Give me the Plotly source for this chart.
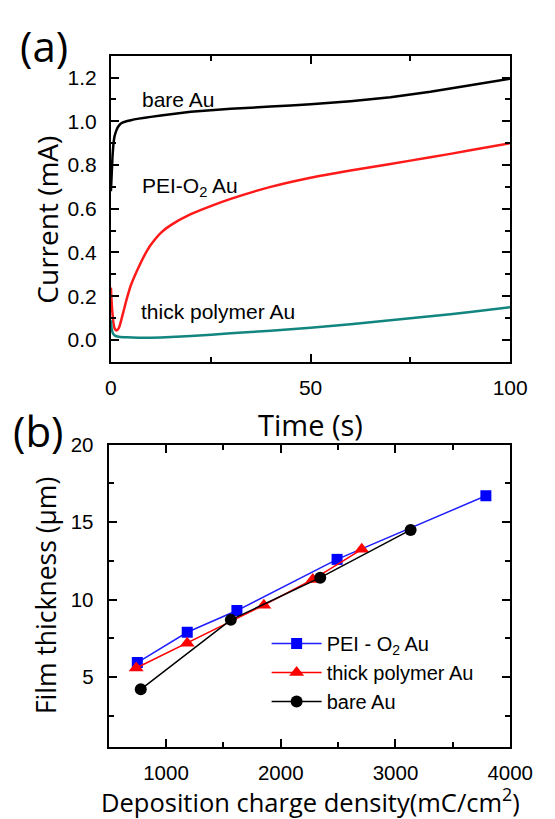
import plotly.graph_objects as go

# ---------------- Panel (a) data ----------------
t_bare = [0, 0.2, 0.4, 0.6, 0.9, 1.3, 1.8, 2.5, 3.5, 5, 7, 10, 15, 20, 30, 40, 50, 60, 70, 80, 90, 100]
i_bare = [0.68, 0.76, 0.84, 0.89, 0.93, 0.955, 0.975, 0.99, 0.998, 1.005, 1.012, 1.02, 1.032, 1.043,
          1.057, 1.067, 1.078, 1.092, 1.11, 1.135, 1.165, 1.195]

t_pei = [0, 0.3, 0.7, 1.0, 1.4, 2.0, 3.0, 4.0, 5.0, 6.0, 7.0, 8.5, 10, 12.5, 15, 20, 25, 30, 40, 50,
         60, 70, 80, 90, 100]
i_pei = [0.24, 0.14, 0.07, 0.05, 0.043, 0.055, 0.12, 0.19, 0.25, 0.295, 0.335, 0.39, 0.435, 0.49,
         0.525, 0.575, 0.612, 0.645, 0.70, 0.742, 0.775, 0.805, 0.835, 0.867, 0.90]

t_thick = [0, 0.2, 0.5, 1, 2, 4, 7, 10, 15, 20, 30, 40, 50, 60, 70, 80, 90, 100]
i_thick = [0.09, 0.05, 0.03, 0.02, 0.015, 0.012, 0.01, 0.01, 0.013, 0.018, 0.03, 0.042, 0.056,
           0.072, 0.09, 0.108, 0.128, 0.15]

# ---------------- Panel (b) data ----------------
q_pei = [750, 1185, 1618, 2491, 3788]
d_pei = [5.95, 7.9, 9.3, 12.6, 16.7]

q_thick = [740, 1185, 1853, 2279, 2706]
d_thick = [5.6, 7.2, 9.65, 11.3, 13.25]

q_bare = [780, 1565, 2344, 3132]
d_bare = [4.22, 8.7, 11.42, 14.5]

W, H = 555, 819
TICKFONT = "Liberation Sans, Arial, sans-serif"
TITLEFONT = "Open Sans, sans-serif"

fig = go.Figure()

# panel (a) curves
fig.add_trace(go.Scatter(x=t_bare, y=i_bare, mode="lines", line=dict(color="black", width=2.5, shape="spline", smoothing=0.3),
                         xaxis="x", yaxis="y", showlegend=False))
fig.add_trace(go.Scatter(x=t_pei, y=i_pei, mode="lines", line=dict(color="#ff1a1a", width=2.5, shape="spline", smoothing=0.6),
                         xaxis="x", yaxis="y", showlegend=False))
fig.add_trace(go.Scatter(x=t_thick, y=i_thick, mode="lines", line=dict(color="#12857f", width=2.5, shape="spline", smoothing=0.6),
                         xaxis="x", yaxis="y", showlegend=False))

# panel (b) series
fig.add_trace(go.Scatter(x=q_pei, y=d_pei, mode="lines+markers", name="PEI - O<sub>2</sub> Au",
                         line=dict(color="#1f1fff", width=1.5),
                         marker=dict(symbol="square", size=11, color="#0000ff"),
                         xaxis="x2", yaxis="y2"))
fig.add_trace(go.Scatter(x=q_thick, y=d_thick, mode="lines+markers", name="thick polymer Au",
                         line=dict(color="#ff0000", width=1.5),
                         marker=dict(symbol="triangle-up", size=13, color="#ff0000"),
                         xaxis="x2", yaxis="y2"))
fig.add_trace(go.Scatter(x=q_bare, y=d_bare, mode="lines+markers", name="bare Au",
                         line=dict(color="black", width=1.5),
                         marker=dict(symbol="circle", size=12, color="black"),
                         xaxis="x2", yaxis="y2"))

axis_common = dict(showline=True, linecolor="black", linewidth=2, mirror="ticks",
                   ticks="inside", ticklen=8, tickwidth=1.5, tickcolor="black",
                   showgrid=False, zeroline=False)

def px_x(p):
    return p / W

def px_y(p):
    return 1 - p / H

fig.update_layout(
    width=W, height=H,
    margin=dict(l=0, r=0, t=0, b=0),
    paper_bgcolor="white", plot_bgcolor="white",
    xaxis=dict(domain=[px_x(110.7), px_x(532)], range=[0, 100], tickvals=[0, 50, 100],
               minor=dict(tickvals=[25, 75], ticks="inside", ticklen=5, tickcolor="black", tickwidth=1.5),
               tickfont=dict(family=TICKFONT, size=21, color="black"), ticklabelstandoff=6,
               anchor="y", **axis_common),
    yaxis=dict(domain=[px_y(355), px_y(44.3)], range=[-0.1, 1.3],
               tickvals=[0, 0.2, 0.4, 0.6, 0.8, 1.0, 1.2], tickformat=".1f",
               minor=dict(dtick=0.1, ticks="inside", ticklen=5, tickcolor="black", tickwidth=1.5),
               tickfont=dict(family=TICKFONT, size=21, color="black"), ticklabelstandoff=8,
               anchor="x", **axis_common),
    xaxis2=dict(domain=[px_x(108.3), px_x(532)], range=[500, 4000], tickvals=[1000, 2000, 3000, 4000],
                minor=dict(dtick=500, ticks="inside", ticklen=5, tickcolor="black", tickwidth=1.5),
                tickfont=dict(family=TICKFONT, size=20.5, color="black"), ticklabelstandoff=6,
                anchor="y2", **axis_common),
    yaxis2=dict(domain=[px_y(746), px_y(439)], range=[0.5, 20], tickvals=[5, 10, 15, 20],
                minor=dict(dtick=2.5, ticks="inside", ticklen=5, tickcolor="black", tickwidth=1.5),
                tickfont=dict(family=TICKFONT, size=20.5, color="black"), ticklabelstandoff=9,
                anchor="x2", **axis_common),
    legend=dict(x=px_x(275), y=px_y(621), xanchor="left", yanchor="top",
                bgcolor="rgba(0,0,0,0)", borderwidth=0, itemwidth=50,
                font=dict(family=TICKFONT, size=20, color="black"), traceorder="normal"),
)

annotations = [
    # in-plot labels (panel a)
    dict(x=7.4, y=1.10, xref="x", yref="y", text="bare Au", showarrow=False, xanchor="left", yanchor="middle",
         font=dict(family=TICKFONT, size=21, color="black")),
    dict(x=7.4, y=0.70, xref="x", yref="y", text="PEI-O<sub>2</sub> Au", showarrow=False, xanchor="left", yanchor="middle",
         font=dict(family=TICKFONT, size=21, color="black")),
    dict(x=7.0, y=0.13, xref="x", yref="y", text="thick polymer Au", showarrow=False, xanchor="left", yanchor="middle",
         font=dict(family=TICKFONT, size=21, color="black")),
    # axis titles
    dict(x=px_x(43), y=px_y(211), xref="paper", yref="paper", text="Current (mA)", textangle=-90, showarrow=False,
         xanchor="center", yanchor="middle", font=dict(family=TITLEFONT, size=28, color="black")),
    dict(x=px_x(321), y=px_y(419), xref="paper", yref="paper", text="Time (s)", showarrow=False,
         xanchor="center", yanchor="middle", font=dict(family=TITLEFONT, size=29, color="black")),
    dict(x=px_x(43), y=px_y(592), xref="paper", yref="paper", text="Film thickness (\u03bcm)", textangle=-90, showarrow=False,
         xanchor="center", yanchor="middle", font=dict(family=TITLEFONT, size=26.5, color="black")),
    dict(x=px_x(321), y=px_y(800), xref="paper", yref="paper", text="Deposition charge density(mC/cm<sup>2</sup>)", showarrow=False,
         xanchor="center", yanchor="middle", font=dict(family=TITLEFONT, size=25.5, color="black")),
    # panel letters
    dict(x=px_x(40), y=px_y(34), xref="paper", yref="paper", text="(a)", showarrow=False,
         xanchor="center", yanchor="middle", font=dict(family=TITLEFONT, size=42, color="black")),
    dict(x=px_x(34), y=px_y(425), xref="paper", yref="paper", text="(b)", showarrow=False,
         xanchor="center", yanchor="middle", font=dict(family=TITLEFONT, size=42, color="black")),
]
fig.update_layout(annotations=annotations)

fig.write_html("out.html")
